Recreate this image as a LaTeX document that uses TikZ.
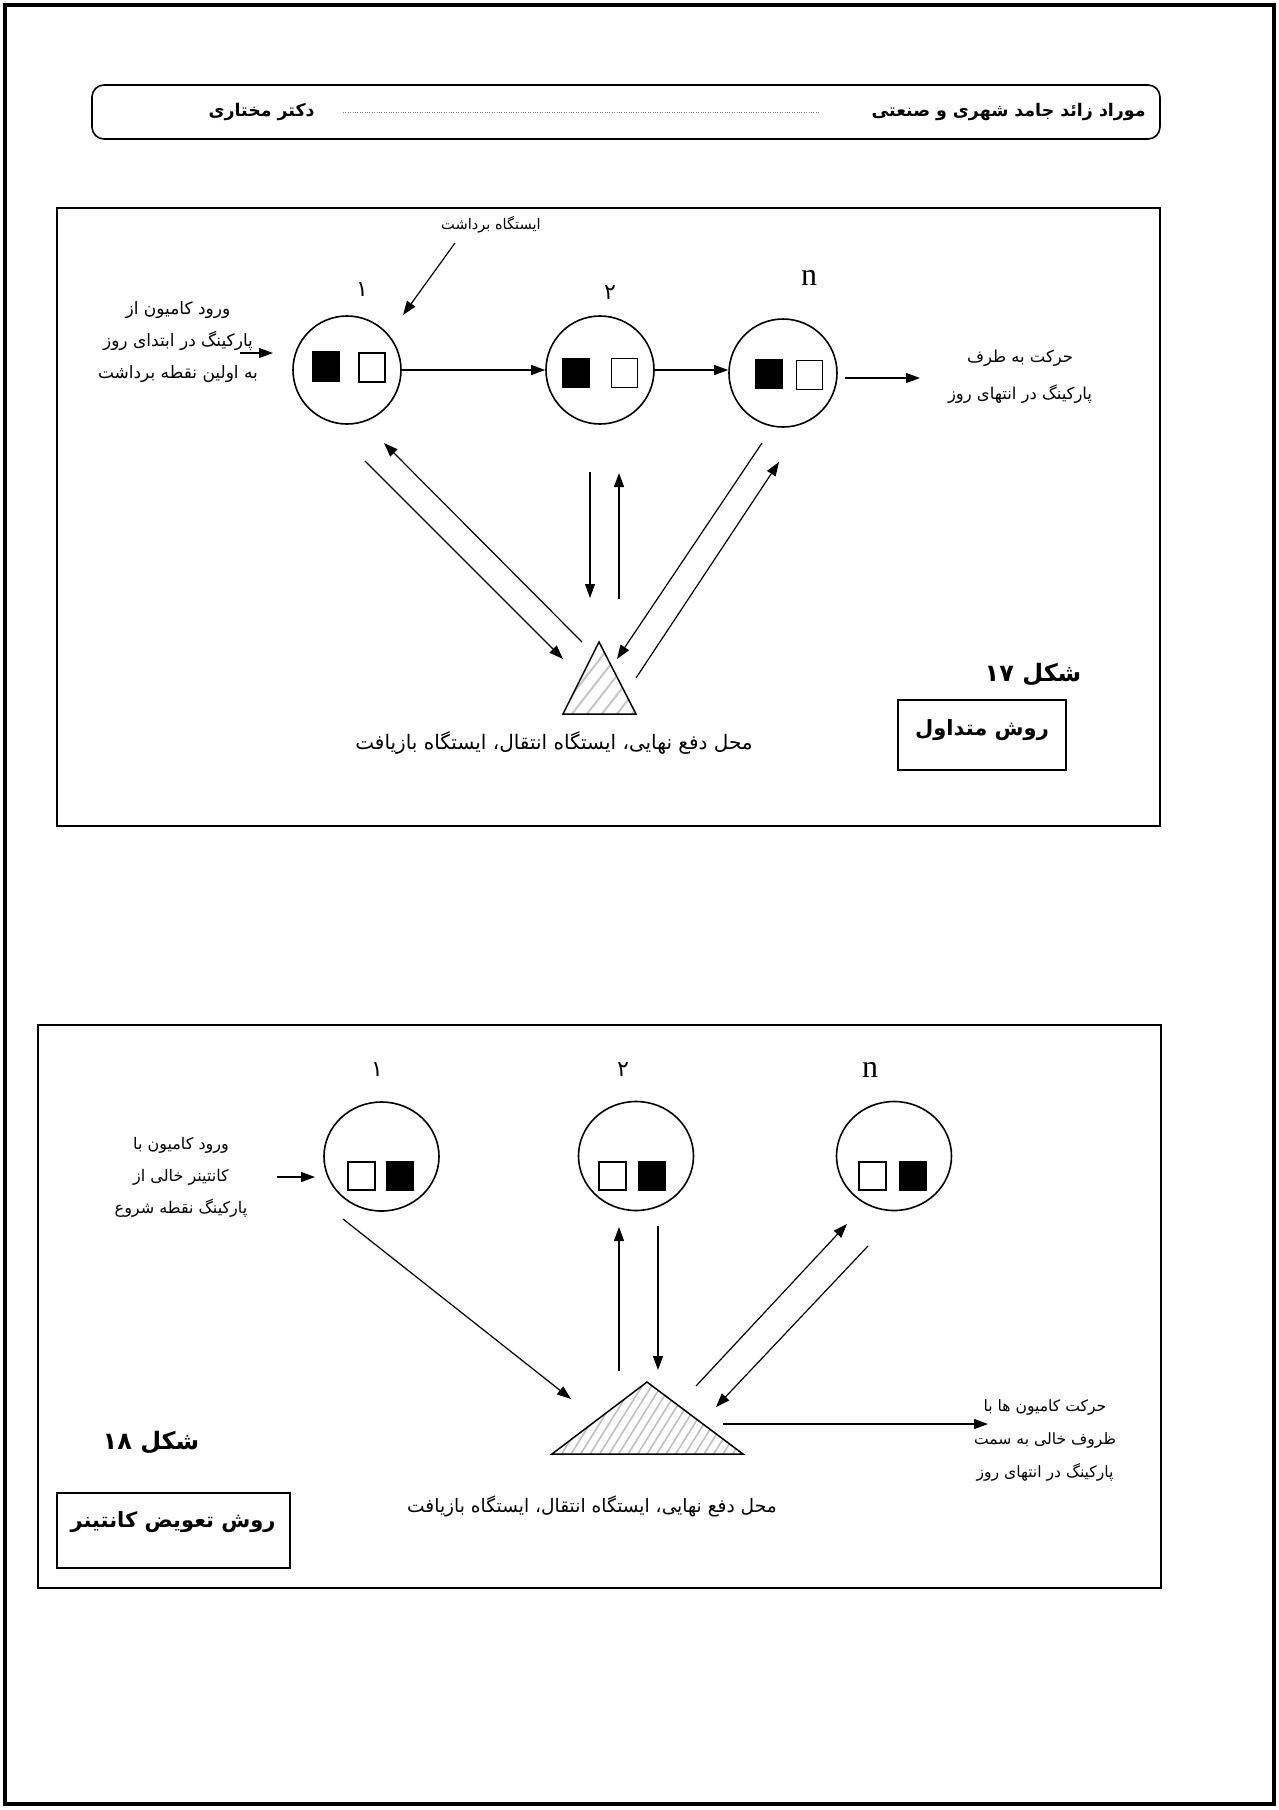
\documentclass[tikz,border=0pt]{standalone}
\usepackage{fontspec}
\setmainfont{Liberation Serif}
\newfontfamily\fa[Script=Arabic]{DejaVu Sans}
\TeXXeTstate=1
\usetikzlibrary{arrows.meta,shapes.geometric}
\newcommand{\myrl}[1]{\beginR #1\endR}
\tikzset{
  arr/.style={line width=0.6pt,-{Triangle[length=7pt,width=5pt]}},
  station/.style={draw,line width=0.8pt,circle,minimum size=54pt,inner sep=0pt},
  stationE/.style={draw,line width=0.8pt,ellipse,minimum width=57.5pt,minimum height=54.5pt,inner sep=0pt},
  sqB/.style={draw,fill=black,line width=0.6pt,minimum width=13pt,minimum height=14.5pt,inner sep=0pt},
  sqW/.style={draw,fill=white,line width=0.6pt,minimum width=13pt,minimum height=14.5pt,inner sep=0pt},
  sqB2/.style={sqB,minimum width=13.5pt,minimum height=14pt},
  sqW2/.style={sqW,minimum width=13.5pt,minimum height=14pt},
  lab/.style={font=\fa\fontsize{8.5}{16}\selectfont,align=center,inner sep=0pt},
  smalllab/.style={font=\fa\fontsize{7.3}{9}\selectfont,inner sep=0pt},
  digit/.style={font=\fa\fontsize{11}{13}\selectfont,inner sep=0pt},
  nlab/.style={font=\fontsize{16}{18}\selectfont,inner sep=0pt},
  boldlab/.style={font=\fa\bfseries\fontsize{8.7}{12}\selectfont,inner sep=0pt},
  figlab/.style={font=\fa\bfseries\fontsize{12}{14}\selectfont,inner sep=0pt},
  boxlab/.style={font=\fa\bfseries\fontsize{10.5}{13}\selectfont,inner sep=0pt},
  framebox/.style={draw,line width=0.6pt},
  hatchA/.style={draw=gray!45,line width=1pt},
  hatchB/.style={draw=gray!50,line width=0.8pt}
}
\begin{document}
\begin{tikzpicture}[x=0.5pt,y=-0.5pt]
\useasboundingbox (0,0) rectangle (1279,1810);
% page border
\draw[line width=1.6pt] (5,5) rectangle (1274,1804);
% header
\draw[line width=0.8pt,rounded corners=6pt] (92,85) rectangle (1160,139);
\node[boldlab,anchor=east] (htitle) at (1146,112) {\myrl{موراد زائد جامد شهری و صنعتی}};
\node[boldlab,anchor=east] (hauthor) at (315,112) {\myrl{دکتر مختاری}};
\draw[gray,line width=0.4pt,dash pattern=on 0.5pt off 0.7pt] (343,112) -- (820,112);

% ================= Figure 17 =================
\draw[framebox] (57,208) rectangle (1160,826);
\node[station] (a1) at (347,370) {};
\node[station] (a2) at (600,370) {};
\node[station] (an) at (783,373) {};
\node[sqB] (a1b) at (326,366.5) {};
\node[sqW] (a1w) at (372,367.5) {};
\node[sqB] (a2b) at (576,373) {};
\node[sqW] (a2w) at (624.5,373) {};
\node[sqB] (anb) at (769,374) {};
\node[sqW] (anw) at (809.5,375) {};
\node[digit] (d1) at (362,290) {۱};
\node[digit] (d2) at (610,293) {۲};
\node[nlab] (dn) at (809,278) {n};
\node[smalllab] (pick) at (491,225) {\myrl{ایستگاه برداشت}};
\coordinate (pickS) at (455,243);
\coordinate (pickT) at (403,315);
\draw[arr] (pickS) -- (pickT);
\node[lab] (entryA) at (178,342) {\myrl{ورود کامیون از}\\\myrl{پارکینگ در ابتدای روز}\\\myrl{به اولین نقطه برداشت}};
\coordinate (entAs) at (240,353);
\coordinate (entAt) at (273,353);
\draw[arr] (entAs) -- (entAt);
\draw[arr] (a1.east) -- (a2.west);
\draw[arr] (a2.east) -- (a2.east -| an.west);
\coordinate (exAs) at (845,378);
\coordinate (exAt) at (920,378);
\draw[arr] (exAs) -- (exAt);
\node[lab,font=\fa\fontsize{8.2}{18.5}\selectfont] (exitA) at (1020,377) {\myrl{حرکت به طرف}\\\myrl{پارکینگ در انتهای روز}};
% triangle 17
\coordinate (ta) at (599,642);
\coordinate (tl) at (563,714);
\coordinate (tr) at (636,714);
\begin{scope}
\clip (ta) -- (tl) -- (tr) -- cycle;
\foreach \k in {0,...,10} \draw[hatchA] ([shift={(\k*15-70,5)}]tl) -- ++(-52:150);
\end{scope}
\draw[line width=0.75pt] (ta) -- (tl) -- (tr) -- cycle;
\node[lab,font=\fa\fontsize{10}{12}\selectfont] (tlabA) at (554,743) {\myrl{محل دفع نهایی، ایستگاه انتقال، ایستگاه بازیافت}};
% connectors 17
\coordinate (A1) at (365,461); \coordinate (A2) at (563,659);
\coordinate (B1) at (582,642); \coordinate (B2) at (384,443);
\coordinate (M1) at (590,472); \coordinate (M2) at (590,598);
\coordinate (M3) at (619,599); \coordinate (M4) at (619,473);
\coordinate (C1) at (762,443); \coordinate (C2) at (617,659);
\coordinate (D1) at (636,678); \coordinate (D2) at (779,462);
\draw[arr] (A1) -- (A2);
\draw[arr] (B1) -- (B2);
\draw[arr] (M1) -- (M2);
\draw[arr] (M3) -- (M4);
\draw[arr] (C1) -- (C2);
\draw[arr] (D1) -- (D2);
\node[figlab] (fig17) at (1033,675) {\myrl{شکل ۱۷}};
\node[framebox,minimum width=84pt,minimum height=35pt,inner sep=0pt] (box17) at (982,735) {};
\node[boxlab] (box17t) at (982,730) {\myrl{روش متداول}};

% ================= Figure 18 =================
\draw[framebox] (38,1025) rectangle (1161,1588);
\node[stationE] (b1) at (381.5,1156.5) {};
\node[stationE] (b2) at (636,1156) {};
\node[stationE] (bn) at (894,1156) {};
\node[sqW2] (b1w) at (361.5,1176) {};
\node[sqB2] (b1b) at (400,1176) {};
\node[sqW2] (b2w) at (612.5,1176) {};
\node[sqB2] (b2b) at (652,1176) {};
\node[sqW2] (bnw) at (872.5,1176) {};
\node[sqB2] (bnb) at (913,1176) {};
\node[digit] (e1) at (377,1070) {۱};
\node[digit] (e2) at (623,1070) {۲};
\node[nlab] (en) at (870,1070) {n};
\node[lab,font=\fa\fontsize{8}{16}\selectfont] (entryB) at (181,1177) {\myrl{ورود کامیون با}\\\myrl{کانتینر خالی از}\\\myrl{پارکینگ نقطه شروع}};
\coordinate (entBs) at (277,1177);
\coordinate (entBt) at (315,1177);
\draw[arr] (entBs) -- (entBt);
% triangle 18
\coordinate (ua) at (647,1382);
\coordinate (ul) at (552,1454);
\coordinate (ur) at (743,1454);
\begin{scope}
\clip (ua) -- (ul) -- (ur) -- cycle;
\foreach \k in {0,...,28} \draw[hatchB] ([shift={(\k*9.5-60,5)}]ul) -- ++(-58:150);
\end{scope}
\draw[line width=0.75pt] (ua) -- (ul) -- (ur) -- cycle;
\node[lab,font=\fa\fontsize{9.3}{12}\selectfont] (tlabB) at (592,1506) {\myrl{محل دفع نهایی، ایستگاه انتقال، ایستگاه بازیافت}};
% connectors 18
\coordinate (P1) at (343,1219); \coordinate (P2) at (571,1399);
\coordinate (Q1) at (619,1371); \coordinate (Q2) at (619,1227);
\coordinate (Q3) at (658,1226); \coordinate (Q4) at (658,1370);
\coordinate (E1) at (696,1386); \coordinate (E2) at (847,1224);
\coordinate (F1) at (868,1246); \coordinate (F2) at (716,1407);
\coordinate (X1) at (723,1424); \coordinate (X2) at (988,1424);
\draw[arr] (P1) -- (P2);
\draw[arr] (Q1) -- (Q2);
\draw[arr] (Q3) -- (Q4);
\draw[arr] (E1) -- (E2);
\draw[arr] (F1) -- (F2);
\draw[arr] (X1) -- (X2);
\node[lab,font=\fa\fontsize{7.8}{16.5}\selectfont] (exitB) at (1045,1440) {\myrl{حرکت کامیون ها با}\\\myrl{ظروف خالی به سمت}\\\myrl{پارکینگ در انتهای روز}};
\node[figlab] (fig18) at (151,1443) {\myrl{شکل ۱۸}};
\node[framebox,minimum width=116.5pt,minimum height=37.5pt,inner sep=0pt] (box18) at (173.5,1530.5) {};
\node[boxlab] (box18t) at (173,1522) {\myrl{روش تعویض کانتینر}};
\end{tikzpicture}
\end{document}
